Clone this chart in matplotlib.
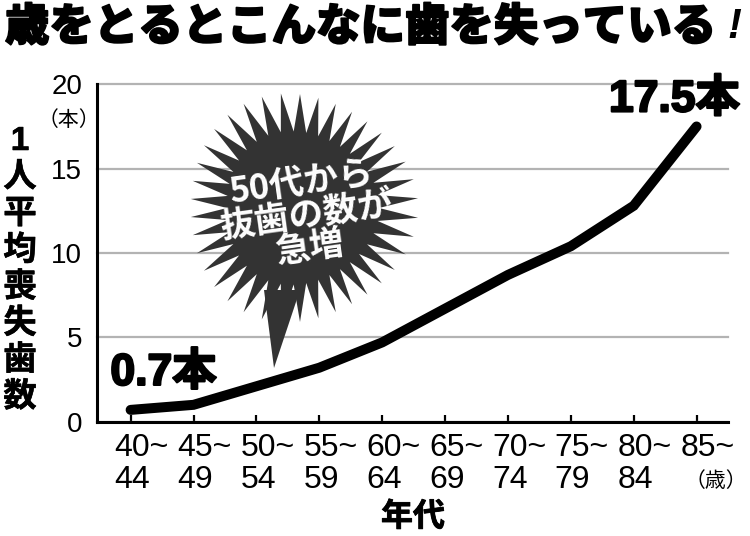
import numpy as np
import matplotlib
matplotlib.use('Agg')
import matplotlib.pyplot as plt
from matplotlib import font_manager
from matplotlib import patheffects as pe
from matplotlib.patches import Polygon
from matplotlib.transforms import Affine2D, blended_transform_factory

names = {f.name for f in font_manager.fontManager.ttflist}
NARROW = 'Liberation Sans Narrow' if 'Liberation Sans Narrow' in names else 'Liberation Sans'
JP = 'Noto Sans CJK JP'

# ---- data ----
age_start = ['40~', '45~', '50~', '55~', '60~', '65~', '70~', '75~', '80~', '85~']
age_end = ['44', '49', '54', '59', '64', '69', '74', '79', '84', '（歳）']
values = [0.7, 1.0, 2.1, 3.2, 4.7, 6.7, 8.7, 10.4, 12.8, 17.5]
yticks = [0, 5, 10, 15, 20]
title = '歳をとるとこんなに歯を失っている'
ylabel = '1人平均喪失歯数'
xlabel = '年代'
yunit = '（本）'
callout = '50代から\n抜歯の数が\n急増'
first_label = '0.7本'
last_label = '17.5本'

W, H = 750, 536
fig = plt.figure(figsize=(W / 100, H / 100), dpi=100)
PX = Affine2D().scale(1 / W, -1 / H).translate(0, 1) + fig.transFigure
heavy = [pe.withStroke(linewidth=1.6, foreground='black')]

ax = fig.add_axes([97.3 / W, (H - 421.7) / H, (728 - 97.3) / W, (421.7 - 84.3) / H])
x = np.arange(len(values))
ax.set_xlim(-0.53, len(values) - 0.5)
ax.set_ylim(0, 20)

ax.plot(x, values, color='black', lw=7.2, solid_capstyle='round',
        solid_joinstyle='miter', zorder=3, clip_on=False)

ax.set_yticks(yticks)
ax.set_yticklabels([str(v) for v in yticks], family=NARROW, fontsize=20)
ax.yaxis.grid(True, color='#b3b3b3', lw=1.6, clip_on=False)
ax.set_axisbelow(True)
ax.tick_params(axis='y', length=0, pad=11)
ax.set_xticks(x)
ax.tick_params(axis='x', direction='in', length=5, width=1.6, labelbottom=False)
for s in ['top', 'right']:
    ax.spines[s].set_visible(False)
for s in ['left', 'bottom']:
    ax.spines[s].set_linewidth(2.2)
    ax.spines[s].set_zorder(4)

trans = blended_transform_factory(ax.transData, ax.transAxes)
for i in range(len(age_start)):
    ax.annotate(age_start[i], xy=(i, 0), xycoords=trans, xytext=(-16, -34.3),
                textcoords='offset pixels', ha='left', va='baseline',
                family=NARROW, fontsize=23, annotation_clip=False)
    if age_end[i].startswith('（'):
        ax.annotate(age_end[i], xy=(i, 0), xycoords=trans, xytext=(19, -59),
                    textcoords='offset pixels', ha='center', va='center',
                    family=JP, fontsize=15, annotation_clip=False)
    else:
        ax.annotate(age_end[i], xy=(i, 0), xycoords=trans, xytext=(-16, -66),
                    textcoords='offset pixels', ha='left', va='baseline',
                    family=NARROW, fontsize=23, annotation_clip=False)

# value labels
for txt, idx, off in [(first_label, 0, (33, 25)), (last_label, len(values) - 1, (-22, 15))]:
    ax.annotate(txt, xy=(idx, values[idx]), xytext=off, textcoords='offset pixels',
                ha='center', va='baseline', fontsize=32, weight='bold',
                family=['Liberation Sans', JP], annotation_clip=False, zorder=6,
                path_effects=heavy)

# titles / labels
fig.text(5 / W, 1 - 27 / H, title, ha='left', va='center', fontsize=32,
         weight='black', family=JP, path_effects=[pe.withStroke(linewidth=1.3, foreground='black')])
fig.text(734 / W, 1 - 27 / H, '!', ha='center', va='center', fontsize=30,
         style='italic', weight='bold', family='Liberation Sans')
for i, ch in enumerate(ylabel):
    fig.text(20 / W, 1 - (141.5 + i * 36.6) / H, ch, ha='center', va='center',
             fontsize=24, weight='bold', family=['Liberation Sans', JP],
             path_effects=[pe.withStroke(linewidth=0.4, foreground='black')])
fig.text(69 / W, 1 - 120 / H, yunit, ha='center', va='center', fontsize=15,
         family=JP)
fig.text(413 / W, 1 - 517 / H, xlabel, ha='center', va='center', fontsize=23,
         weight='bold', family=JP, path_effects=[pe.withStroke(linewidth=0.6, foreground='black')])

# starburst callout
cx, cy, R, r, n = 300, 208, 114, 76, 38
ang = np.linspace(0, 2 * np.pi, 2 * n, endpoint=False) + np.pi / 2
rad = np.where(np.arange(2 * n) % 2 == 0, R, r) * (1 + 0.04 * np.cos(3 * ang))
star = np.column_stack([cx + rad * np.cos(ang), cy - rad * np.sin(ang)])
fig.add_artist(Polygon([(264, 290), (274, 368), (300, 290)], closed=True,
                       facecolor='#333333', edgecolor='none', transform=PX, zorder=5))
fig.add_artist(Polygon(star, closed=True, facecolor='#333333', edgecolor='none',
                       transform=PX, zorder=5))
fig.text(306 / W, 1 - 215 / H, callout, ha='center', va='center', color='white',
         fontsize=25, weight='bold', family=JP, rotation=8, linespacing=0.92,
         multialignment='center', zorder=6)

fig.savefig('out.png', dpi=100)
